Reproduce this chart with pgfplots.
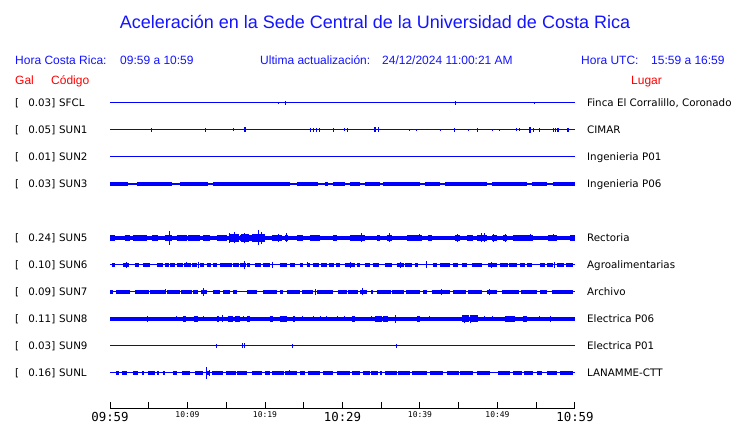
\documentclass[border=0pt]{standalone}
\usepackage{pgfplots}
\pgfplotsset{compat=1.18}
\usepackage{fontspec}
\setmainfont{Liberation Sans}
\newfontfamily\dvs{DejaVu Sans}
\newfontfamily\dvm{DejaVu Sans Mono}
\definecolor{trace}{RGB}{0,0,255}
\definecolor{hdr}{RGB}{20,20,255}
\definecolor{lab}{RGB}{255,0,0}
\newcommand\bigtl[1]{{\dvm\fontsize{12.4}{13}\selectfont #1}}
\newcommand\smtl[1]{{\dvm\fontsize{8}{9}\selectfont #1}}
\pgfplotsset{
  blk/.style={trace, line width=#1, mark=none, unbounded coords=jump},
  spk/.style={trace, line width=1pt, mark=none, error bars/.cd, y dir=both, y explicit, error mark=none, error bar style={line width=1pt, trace}},
}
\begin{document}
\begin{tikzpicture}
\fill[white] (0,0) rectangle (740pt,423pt);
\useasboundingbox (0,0) rectangle (740pt,423pt);
\begin{axis}[at={(110pt,14.7pt)}, anchor=south west, x=7.75pt, y=1pt,
  xmin=0, xmax=60, ymin=14.7, ymax=340, enlargelimits=false, clip=false,
  axis x line*=bottom, axis y line=none,
  xtick={0,5,...,60}, xtick align=inside, major tick length=6.6pt,
  tick style={black, line width=1pt}, axis line style={black, line width=1pt},
  xticklabels={\bigtl{09:59},,\smtl{10:09},,\smtl{10:19},,\bigtl{10:29},,\smtl{10:39},,\smtl{10:49},,\bigtl{10:59}},
  xticklabel style={inner sep=0pt, anchor=north, yshift=-3.3pt},
]
% baselines
\addplot[blk=1pt] coordinates {(0,320)(60,320)};
\addplot[blk=1pt] coordinates {(0,293)(60,293)};
\addplot[blk=1pt] coordinates {(0,266)(60,266)};
\addplot[blk=1.6pt] coordinates {(0,239)(60,239)};
\addplot[blk=4.4pt] coordinates {(0,185)(60,185)};
\addplot[blk=1pt] coordinates {(0,158)(60,158)};
\addplot[blk=1pt] coordinates {(0,131)(60,131)};
\addplot[blk=4pt] coordinates {(0,104)(60,104)};
\addplot[blk=1pt] coordinates {(0,77)(60,77)};
\addplot[blk=1pt] coordinates {(0,50)(60,50)};
% SFCL
\addplot[spk] coordinates {(21.8,320)+-(0,1) (22.6,320)+-(0,2) (44.6,320)+-(0,2) (54.8,320)+-(0,1)};
% SUN1
\addplot[spk] coordinates {(5.3,293)+-(0,2) (12.3,293)+-(0,2) (15.9,293)+-(0,1.5) (17.35,293)+-(0,2.5) (17.5,293)+-(0,2.5)
 (25.9,293)+-(0,2) (26.2,293)+-(0,2) (26.6,293)+-(0,2) (27.0,293)+-(0,2) (28.9,293)+-(0,2) (30.3,293)+-(0,1.5) (30.6,293)+-(0,2)
 (34.1,293)+-(0,2.5) (34.2,293)+-(0,2.5) (34.7,293)+-(0,2.5) (38.6,293)+-(0,1) (39.6,293)+-(0,1) (42.7,293)+-(0,1)
 (44.5,293)+-(0,2) (46.3,293)+-(0,1) (47.4,293)+-(0,2) (49.3,293)+-(0,1) (50.3,293)+-(0,1) (52.5,293)+-(0,1.5) (52.9,293)+-(0,1.5)
 (54.1,293)+-(0,3) (54.3,293)+-(0,3) (54.6,293)+-(0,2) (55.4,293)+-(0,2) (57.2,293)+-(0,2) (57.5,293)+-(0,2) (57.7,293)+-(0,2)
 (57.9,293)+-(0,2) (59.0,293)+-(0,2) (59.2,293)+-(0,2)};
% SUN3
\addplot[blk=3.4pt] coordinates {(0,239)(2.3,239)(nan,239)(3.5,239)(8.0,239)(nan,239)(9.0,239)(12.6,239)(nan,239)
 (13.3,239)(23.2,239)(nan,239)(24.1,239)(26.8,239)(nan,239)(27.7,239)(28.1,239)(nan,239)(28.8,239)(30.3,239)(nan,239)
 (31.0,239)(32.3,239)(nan,239)(32.9,239)(34.8,239)(nan,239)(35.2,239)(40.0,239)(nan,239)(40.6,239)(42.6,239)(nan,239)
 (43.2,239)(48.6,239)(nan,239)(49.3,239)(53.8,239)(nan,239)(54.4,239)(56.4,239)(nan,239)(57.2,239)(60,239)};
% SUN5
\addplot[blk=6.4pt] coordinates {(0,185)(0.65,185)(nan,185)(1.9,185)(2.6,185)(nan,185)(3.0,185)(4.8,185)(nan,185)
 (5.4,185)(6.2,185)(nan,185)(7.1,185)(8.0,185)(nan,185)(8.6,185)(9.9,185)(nan,185)(10.1,185)(11.6,185)(nan,185)
 (12.0,185)(12.9,185)(nan,185)(13.8,185)(15.1,185)(nan,185)(16.8,185)(19.0,185)(nan,185)(20.9,185)(22.2,185)(nan,185)
 (22.6,185)(23.0,185)(nan,185)(24.1,185)(24.9,185)(nan,185)(25.8,185)(27.1,185)(nan,185)(28.8,185)(29.3,185)(nan,185)
 (31.0,185)(32.9,185)(nan,185)(34.5,185)(34.8,185)(nan,185)(35.7,185)(36.4,185)(nan,185)(38.3,185)(40.3,185)(nan,185)
 (41.0,185)(41.5,185)(nan,185)(44.5,185)(45.2,185)(nan,185)(46.1,185)(46.8,185)(nan,185)(47.4,185)(48.6,185)(nan,185)
 (49.3,185)(49.9,185)(nan,185)(50.7,185)(51.2,185)(nan,185)(52.0,185)(54.6,185)(nan,185)(56.5,185)(57.7,185)(nan,185)
 (59.4,185)(60,185)};
\addplot[blk=8pt] coordinates {(15.3,185)(16.6,185)(nan,185)(16.9,185)(17.9,185)(nan,185)(18.3,185)(20.0,185)};
\addplot[spk] coordinates {(7.7,185)+-(0,7) (15.4,185)+-(0,5) (16.1,185)+-(0,5.5) (17.4,185)+-(0,5) (19.1,185)+-(0,7.5)
 (19.6,185)+-(0,6) (21.8,185)+-(0,4) (22.8,185)+-(0,4.5) (32.5,185)+-(0,4.5) (36.1,185)+-(0,4.5) (40.0,185)+-(0,3.5)
 (44.8,185)+-(0,4) (47.9,185)+-(0,4.5) (48.3,185)+-(0,4.5) (49.5,185)+-(0,4) (51.0,185)+-(0,4) (54.2,185)+-(0,3.5) (57.2,185)+-(0,3.5)};
% SUN6
\addplot[blk=3.4pt] coordinates {(0.26,158)(0.65,158)(nan,158)(1.7,158)(2.45,158)(nan,158)(3.2,158)(3.7,158)(nan,158)
 (4.3,158)(5.2,158)(nan,158)(6.1,158)(6.9,158)(nan,158)(7.1,158)(7.6,158)(nan,158)(7.8,158)(8.4,158)(nan,158)
 (8.6,158)(9.4,158)(nan,158)(9.6,158)(10.4,158)(nan,158)(10.6,158)(11.2,158)(nan,158)(11.6,158)(12.1,158)(nan,158)
 (12.5,158)(13.0,158)(nan,158)(13.3,158)(13.8,158)(nan,158)(14.2,158)(15.7,158)(nan,158)(15.9,158)(16.6,158)(nan,158)
 (16.8,158)(17.5,158)(nan,158)(17.7,158)(18.1,158)(nan,158)(18.7,158)(19.5,158)(nan,158)(19.7,158)(20.6,158)(nan,158)
 (21.9,158)(22.8,158)(nan,158)(23.2,158)(23.9,158)(nan,158)(24.5,158)(24.9,158)(nan,158)(25.4,158)(25.8,158)(nan,158)
 (26.2,158)(27.0,158)(nan,158)(27.2,158)(28.0,158)(nan,158)(28.2,158)(28.9,158)(nan,158)(29.1,158)(29.7,158)(nan,158)
 (30.3,158)(31.6,158)(nan,158)(31.9,158)(32.3,158)(nan,158)(32.9,158)(33.5,158)(nan,158)(33.9,158)(34.7,158)(nan,158)
 (35.5,158)(36.4,158)(nan,158)(37.0,158)(37.9,158)(nan,158)(38.1,158)(39.0,158)(nan,158)(39.4,158)(39.7,158)(nan,158)
 (41.7,158)(42.2,158)(nan,158)(42.6,158)(43.9,158)(nan,158)(44.3,158)(44.9,158)(nan,158)(45.4,158)(46.1,158)(nan,158)
 (46.7,158)(48.0,158)(nan,158)(48.8,158)(49.9,158)(nan,158)(50.3,158)(51.3,158)(nan,158)(51.5,158)(52.5,158)(nan,158)
 (52.9,158)(53.6,158)(nan,158)(53.8,158)(54.5,158)(nan,158)(55.5,158)(56.1,158)(nan,158)(56.4,158)(57.2,158)(nan,158)
 (57.7,158)(58.6,158)(nan,158)(58.8,158)(59.7,158)};
\addplot[spk] coordinates {(2.1,158)+-(0,3) (9.9,158)+-(0,2.5) (11.4,158)+-(0,3) (17.3,158)+-(0,4) (21.0,158)+-(0,3)
 (25.5,158)+-(0,2.5) (31.0,158)+-(0,3) (37.5,158)+-(0,3) (40.8,158)+-(0,3.5) (49.2,158)+-(0,3) (57.4,158)+-(0,3)};
% SUN7
\addplot[blk=3.4pt] coordinates {(0,131)(0.4,131)(nan,131)(0.8,131)(2.6,131)(nan,131)(3.2,131)(5.0,131)(nan,131)
 (5.2,131)(7.1,131)(nan,131)(7.4,131)(9.0,131)(nan,131)(9.2,131)(10.6,131)(nan,131)(10.7,131)(11.4,131)(nan,131)
 (11.7,131)(12.5,131)(nan,131)(13.3,131)(14.2,131)(nan,131)(14.6,131)(15.5,131)(nan,131)(15.9,131)(16.4,131)(nan,131)
 (17.7,131)(19.0,131)(nan,131)(19.7,131)(21.5,131)(nan,131)(21.9,131)(22.3,131)(nan,131)(22.8,131)(24.5,131)(nan,131)
 (24.8,131)(26.2,131)(nan,131)(26.7,131)(28.8,131)(nan,131)(29.4,131)(30.6,131)(nan,131)(30.7,131)(32.0,131)(nan,131)
 (32.3,131)(33.2,131)(nan,131)(33.7,131)(33.9,131)(nan,131)(34.5,131)(36.2,131)(nan,131)(36.4,131)(38.0,131)(nan,131)
 (38.2,131)(40.0,131)(nan,131)(40.4,131)(40.9,131)(nan,131)(41.5,131)(43.9,131)(nan,131)(44.3,131)(46.0,131)(nan,131)
 (46.2,131)(48.0,131)(nan,131)(48.6,131)(49.9,131)(nan,131)(50.6,131)(52.8,131)(nan,131)(53.0,131)(55.1,131)(nan,131)
 (55.5,131)(56.4,131)(nan,131)(57.0,131)(59.7,131)};
\addplot[spk] coordinates {(7.1,131)+-(0,2.5) (12.0,131)+-(0,4) (26.5,131)+-(0,3) (32.6,131)+-(0,3.5) (42.8,131)+-(0,3) (49.0,131)+-(0,3)};
% SUN8
\addplot[blk=5.6pt] coordinates {(9.4,104)(9.8,104)(nan,104)(10.8,104)(11.4,104)(nan,104)(13.8,104)(14.1,104)(nan,104)
 (15.2,104)(15.9,104)(nan,104)(16.1,104)(16.8,104)(nan,104)(17.7,104)(18.1,104)(nan,104)(20.6,104)(21.0,104)(nan,104)
 (21.9,104)(22.8,104)(nan,104)(23.6,104)(23.9,104)(nan,104)(31.2,104)(31.6,104)(nan,104)(34.2,104)(35.1,104)(nan,104)
 (35.2,104)(35.9,104)(nan,104)(39.6,104)(40.0,104)(nan,104)(51.0,104)(52.3,104)(nan,104)(53.3,104)(53.8,104)};
\addplot[blk=7pt] coordinates {(45.4,104)(46.3,104)(nan,104)(46.5,104)(47.5,104)};
\addplot[spk] coordinates {(1.7,104)+-(0,2) (4.8,104)+-(0,3) (8.6,104)+-(0,2.5) (12.1,104)+-(0,2.5) (14.5,104)+-(0,3.5)
 (17.2,104)+-(0,2.5) (18.6,104)+-(0,2) (24.8,104)+-(0,2.5) (26.2,104)+-(0,2.5) (27.1,104)+-(0,2.5) (27.9,104)+-(0,2.5)
 (29.3,104)+-(0,2.5) (30.2,104)+-(0,2.5) (33.8,104)+-(0,2.5) (36.9,104)+-(0,4) (41.2,104)+-(0,2.5) (45.8,104)+-(0,4)
 (46.5,104)+-(0,4) (48.3,104)+-(0,2.5) (49.4,104)+-(0,2.5) (55.4,104)+-(0,2.5) (56.8,104)+-(0,3)};
% SUN9
\addplot[spk] coordinates {(13.7,77)+-(0,2) (17.15,77)+-(0,2.5) (17.35,77)+-(0,2.5) (23.5,77)+-(0,2) (37.0,77)+-(0,2)};
% SUNL
\addplot[blk=3.2pt] coordinates {(0.8,50)(1.2,50)(nan,50)(1.5,50)(2.2,50)(nan,50)(3.0,50)(3.6,50)(nan,50)(4.1,50)(4.4,50)(nan,50)
 (4.9,50)(5.8,50)(nan,50)(6.1,50)(6.3,50)(nan,50)(6.8,50)(7.1,50)(nan,50)(8.1,50)(8.6,50)(nan,50)(9.3,50)(10.3,50)(nan,50)
 (11.0,50)(12.0,50)(nan,50)(12.5,50)(12.9,50)(nan,50)(13.2,50)(14.6,50)(nan,50)(15.0,50)(16.2,50)(nan,50)(16.4,50)(17.7,50)(nan,50)
 (18.3,50)(19.6,50)(nan,50)(20.0,50)(20.6,50)(nan,50)(20.9,50)(22.4,50)(nan,50)(22.6,50)(24.1,50)(nan,50)(24.5,50)(25.2,50)(nan,50)
 (25.5,50)(27.1,50)(nan,50)(27.5,50)(28.8,50)(nan,50)(29.3,50)(31.0,50)(nan,50)(31.2,50)(32.3,50)(nan,50)(32.6,50)(33.5,50)(nan,50)
 (33.7,50)(34.6,50)(nan,50)(34.8,50)(35.1,50)(nan,50)(35.5,50)(37.0,50)(nan,50)(37.2,50)(38.7,50)(nan,50)(39.0,50)(40.9,50)(nan,50)
 (41.3,50)(43.0,50)(nan,50)(43.5,50)(45.0,50)(nan,50)(45.2,50)(46.8,50)(nan,50)(47.4,50)(49.0,50)(nan,50)(50.1,50)(51.6,50)(nan,50)
 (52.0,50)(53.2,50)(nan,50)(53.4,50)(54.6,50)(nan,50)(55.1,50)(55.7,50)(nan,50)(56.4,50)(57.7,50)(nan,50)(58.1,50)(59.7,50)};
\addplot[spk] coordinates {(1.9,50)+-(0,2) (5.4,50)+-(0,2) (12.4,50)+-(0,6) (12.8,50)+-(0,3) (19.1,50)+-(0,2) (23.2,50)+-(0,2.5)};
\end{axis}
% title and headers
\node[anchor=base, text=hdr, font=\fontsize{18}{20}\selectfont] at (375pt,394pt) {Aceleración en la Sede Central de la Universidad de Costa Rica};
\begin{scope}[every node/.style={anchor=base west, inner sep=0pt, text=hdr, font=\fontsize{12}{14}\selectfont}]
\node at (15pt,358pt) {Hora Costa Rica:};
\node at (120pt,358pt) {09:59 a 10:59};
\node at (260pt,358pt) {Ultima actualización:};
\node at (382pt,358pt) {24/12/2024 11:00:21 AM};
\node at (581pt,358pt) {Hora UTC:};
\node at (651pt,358pt) {15:59 a 16:59};
\node[text=lab] at (15pt,338pt) {Gal};
\node[text=lab] at (51pt,338pt) {Código};
\node[text=lab] at (631pt,338pt) {Lugar};
\end{scope}
\begin{scope}[every node/.style={inner sep=0pt, text=black, font=\dvs\fontsize{10.3}{12}\selectfont}]
\foreach \y/\g/\c/\l in {320/0.03/SFCL/{Finca El Corralillo, Coronado}, 293/0.05/SUN1/CIMAR, 266/0.01/SUN2/Ingenieria P01,
  239/0.03/SUN3/Ingenieria P06, 185/0.24/SUN5/Rectoria, 158/0.10/SUN6/Agroalimentarias, 131/0.09/SUN7/Archivo,
  104/0.11/SUN8/Electrica P06, 77/0.03/SUN9/Electrica P01, 50/0.16/SUNL/LANAMME-CTT}{
  \node[anchor=base west] at (15pt,\y pt-3.7pt) {[};
  \node[anchor=base east] at (55.5pt,\y pt-3.7pt) {\g]};
  \node[anchor=base west] at (59pt,\y pt-3.7pt) {\c};
  \node[anchor=base west] at (587pt,\y pt-3.7pt) {\l};
}
\end{scope}
\end{tikzpicture}
\end{document}
